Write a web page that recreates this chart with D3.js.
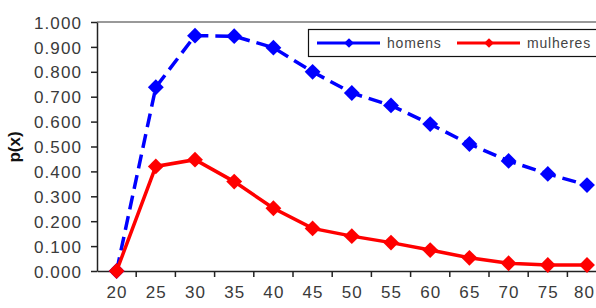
<!DOCTYPE html>
<html><head><meta charset="utf-8">
<script src="https://cdn.jsdelivr.net/npm/d3@7"></script>
<style>body{margin:0;background:#fff;overflow:hidden}svg{display:block}</style>
</head><body>
<svg id="c" width="596" height="308"></svg>
<script>
const categories = [20,25,30,35,40,45,50,55,60,65,70,75,80];
const homens   = [0.000,0.738,0.945,0.943,0.897,0.800,0.715,0.665,0.590,0.510,0.442,0.390,0.345];
const mulheres = [0.000,0.420,0.447,0.359,0.252,0.171,0.140,0.114,0.084,0.053,0.031,0.024,0.024];
const yTicks = [0,0.1,0.2,0.3,0.4,0.5,0.6,0.7,0.8,0.9,1.0];
const seriesNames = ["homens","mulheres"];
const colors = ["#0000ff","#ff0000"];

const FONT = "Liberation Sans, Arial, sans-serif";
const svg = d3.select("#c");
const L = 97, T = 22, B = 271, step = 39.2;
const R = L + step*categories.length;
const x = d3.scaleBand().domain(categories).range([L, R]).padding(0);
const y = d3.scaleLinear().domain([0,1]).range([B, T]);

// top border
svg.append("line").attr("x1",L).attr("x2",R).attr("y1",T).attr("y2",T)
  .attr("stroke","#777").attr("stroke-width",1.5);

const yAx = svg.append("g").attr("transform",`translate(${L},0)`)
  .call(d3.axisLeft(y).tickValues(yTicks).tickFormat(d3.format(".3f")).tickSize(6).tickSizeOuter(0));
const xAx = svg.append("g").attr("transform",`translate(0,${B})`)
  .call(d3.axisBottom(x).tickSize(0).tickSizeOuter(0));
// category boundary ticks
xAx.selectAll(".bt").data(categories).enter().append("line")
  .attr("x1",d=>x(d)+x.bandwidth()).attr("x2",d=>x(d)+x.bandwidth())
  .attr("y1",0).attr("y2",6).attr("stroke","#222").attr("stroke-width",1.5);
[yAx,xAx].forEach(g=>{
  g.selectAll("path.domain").attr("stroke","#222").attr("stroke-width",1.5);
  g.selectAll(".tick line").attr("stroke","#222").attr("stroke-width",1.5);
  g.selectAll("text").attr("font-family",FONT)
    .attr("font-size",17).attr("letter-spacing",1.1).attr("fill","#3a3a3a");
});
yAx.selectAll("text").attr("x",-15).attr("dy","0.36em");
xAx.selectAll("text").attr("y",15).attr("dx",(d,i)=> i===categories.length-1 ? -2.5 : 0.5);

svg.append("text").attr("transform",`translate(20,147) rotate(-90)`)
  .attr("text-anchor","middle").attr("font-family",FONT)
  .attr("font-weight","bold").attr("font-size",17).attr("fill","#111").text("p(x)");

const cx = d => x(d) + x.bandwidth()/2;
const diamond = d3.symbol().type(d3.symbolDiamond2).size(160);
const data = [homens, mulheres];
data.forEach((vals,i)=>{
  const pts = categories.map((c,j)=>[cx(c), y(vals[j])]);
  svg.append("path").attr("d", d3.line()(pts)).attr("fill","none")
    .attr("stroke",colors[i]).attr("stroke-width",3.5)
    .attr("stroke-dasharray", i===0 ? "14,7" : null);
  svg.selectAll(".m"+i).data(pts).enter().append("path")
    .attr("d",diamond).attr("transform",d=>`translate(${d[0]},${d[1]})`)
    .attr("fill",colors[i]);
});

// legend
const lg = svg.append("g");
lg.append("rect").attr("x",308.5).attr("y",29.5).attr("width",300).attr("height",27)
  .attr("fill","#fff").attr("stroke","#111").attr("stroke-width",1.2);
const lx = [317, 457];
seriesNames.forEach((n,i)=>{
  lg.append("line").attr("x1",lx[i]).attr("x2",lx[i]+63).attr("y1",43).attr("y2",43)
    .attr("stroke",colors[i]).attr("stroke-width",3);
  lg.append("path").attr("d",d3.symbol().type(d3.symbolDiamond2).size(60))
    .attr("transform",`translate(${lx[i]+32},43)`).attr("fill",colors[i]);
  lg.append("text").attr("x",lx[i]+70).attr("y",48).attr("font-family",FONT)
    .attr("font-size",14).attr("letter-spacing",0.8).attr("fill","#444").text(n);
});
</script>
</body></html>
